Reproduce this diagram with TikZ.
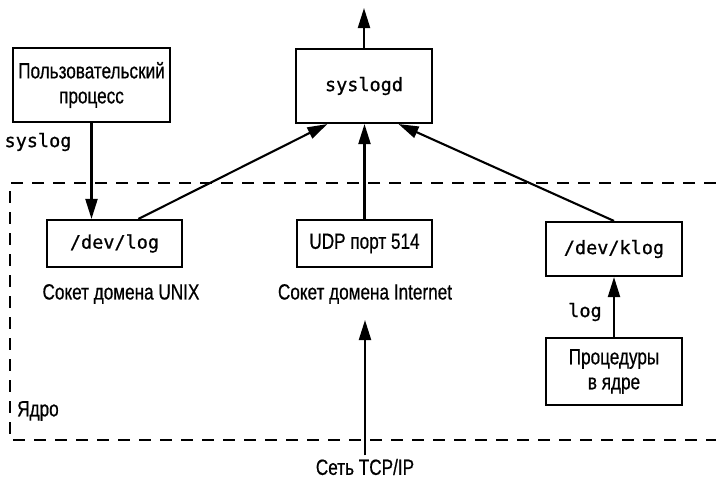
\documentclass[tikz,border=0pt]{standalone}
\usepackage{fontspec}
\setmainfont{Liberation Sans}[FakeStretch=0.78,FakeBold=0.6]
\setmonofont{DejaVu Sans Mono}[FakeBold=0.8]
\usetikzlibrary{arrows.meta,calc}
\begin{document}
\begin{tikzpicture}[x=1pt,y=-1pt,
  box/.style={draw,line width=2.1pt,inner sep=0pt,align=center},
  lab/.style={font=\fontsize{22}{25}\selectfont},
  mono/.style={font=\fontsize{18.5}{22}\ttfamily},
  arr/.style={line width=2.1pt,-{Triangle[length=20pt,width=12pt]}},
  kern/.style={line width=2pt,dash pattern=on 12pt off 9pt}]
\useasboundingbox (0,0) rectangle (716,479);
% kernel boundary
\draw[kern] (716,183) -- (10,183) -- (10,440) -- (716,440);
% boxes
\node[box,lab,minimum width=157pt,minimum height=74pt] (user) at (91.5,85) {Пользовательский\\процесс};
\node[box,mono,minimum width=136pt,minimum height=74pt] (syslogd) at (364,86) {syslogd};
\node[box,mono,minimum width=135pt,minimum height=47pt] (devlog) at (114.5,243.5) {/dev/log};
\node[box,lab,minimum width=135pt,minimum height=47pt] (udp) at (364.5,243.5) {UDP порт 514};
\node[box,mono,minimum width=136pt,minimum height=54pt] (klog) at (614,249) {/dev/klog};
\node[box,lab,minimum width=136pt,minimum height=67pt] (proc) at (614,371.5) {Процедуры\\в ядре};
% labels
\node[mono] (syslog) at (38,142) {syslog};
\node[lab] (unix) at (121,294) {Сокет домена UNIX};
\node[lab] (inet) at (365,294) {Сокет домена Internet};
\node[mono] (loglab) at (585,312) {log};
\node[lab,anchor=west,inner sep=0pt] (kernel) at (17,411) {Ядро};
\node[lab] (tcp) at (365,467) {Сеть TCP/IP};
% free ends
\coordinate (out) at (364,8);
\coordinate (tcptip) at (365,320);
% connectors
\draw[arr] (syslogd.north) -- (out);
\draw[arr] (user.south) -- (user.south |- devlog.north);
\draw[arr] ($(devlog.north west)!0.674!(devlog.north east)$) -- ($(syslogd.south west)!0.235!(syslogd.south east)$);
\draw[arr] (udp.north) -- (udp.north |- syslogd.south);
\draw[arr] (klog.north) -- ($(syslogd.south west)!0.75!(syslogd.south east)$);
\draw[arr] (proc.north) -- (klog.south);
\draw[arr] (tcp.north) -- (tcptip);
\end{tikzpicture}
\end{document}
